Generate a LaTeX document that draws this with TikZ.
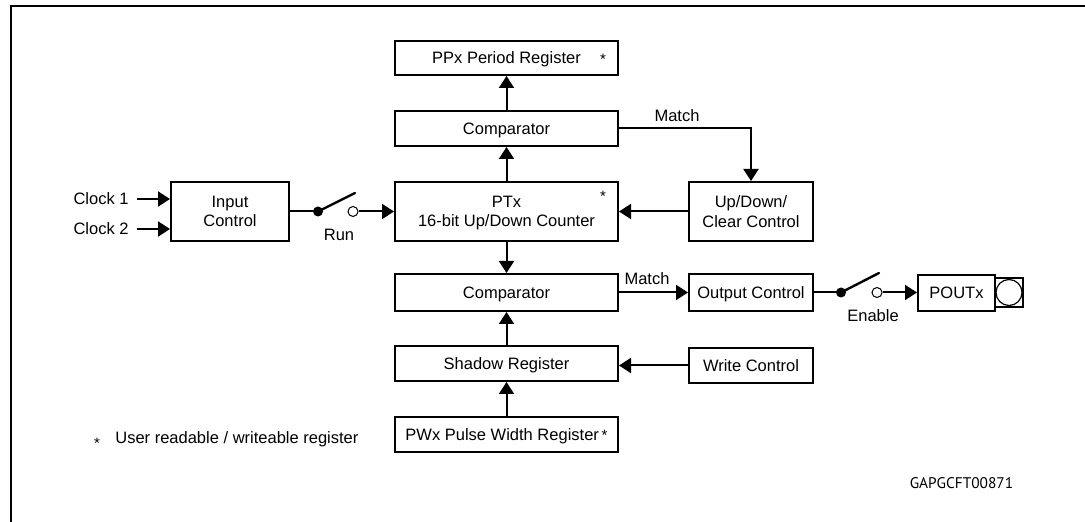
\documentclass[tikz,border=0pt]{standalone}
\usepackage{fontspec}
\setmainfont{Liberation Sans}
\newfontfamily\figidfont{PT Sans}
\usetikzlibrary{arrows.meta}

\tikzset{
  blk/.style={draw,line width=1pt,inner sep=0pt,minimum width=111.5pt,align=center,
    text depth=0pt,font=\fontsize{8.25}{9.8}\selectfont},
  ctl/.style={blk,minimum width=62pt},
  txt/.style={inner sep=0pt,font=\fontsize{8.25}{9.8}\selectfont},
  regstar/.style={inner sep=0pt,font=\fontsize{7.5}{7.5}\selectfont},
  wire/.style={line width=1pt},
  arr/.style={wire,-{Triangle[length=6pt,width=7.5pt]}},
  lever/.style={line width=1.2pt,line cap=round},
  swdot/.style={circle,fill,inner sep=0pt,minimum size=5pt},
  swopen/.style={circle,draw,line width=0.5pt,inner sep=0pt,minimum size=5pt},
}

\begin{document}
\begin{tikzpicture}[x=0.5pt,y=-0.5pt]
\useasboundingbox (0,0) rectangle (1085,522);
% Frame
\draw[line width=1.2pt] (11,522) -- (11,6) -- (1085,6);
            % Blocks
\node[blk,minimum height=17pt] (ppr) at (506.5,58) {PPx Period Register};
\node[regstar] (pprstar) at (603,59) {*};
\node[blk,minimum height=17.5pt] (cmpa) at (506.5,128.5) {Comparator};
\node[blk,minimum height=29.5pt] (ptx) at (506.5,211.5) {PTx\\16-bit Up/Down Counter};
\node[regstar] (ptxstar) at (603,196) {*};
\node[ctl,minimum height=29.5pt] (udc) at (751,211.5) {Up/Down/\\Clear Control};
\node[blk,minimum width=59pt,minimum height=29.5pt] (inc) at (230,211.5) {Input\\Control};
\node[blk,minimum height=18.5pt] (cmpb) at (506.5,292.5) {Comparator};
\node[ctl,minimum height=18.5pt] (outc) at (751,292.5) {Output Control};
\node[blk,minimum width=38.5pt,minimum height=18pt] (pout) at (956.5,293) {POUTx};
\node[draw,line width=0.6pt,inner sep=0pt,minimum width=14pt,minimum height=14.5pt] (pad) at (1009,292.5) {};
\node[circle,draw,line width=0.6pt,inner sep=0pt,minimum size=13pt] (padc) at (pad) {};
\node[blk,minimum height=17.5pt] (shr) at (506.5,363.5) {Shadow Register};
\node[ctl,minimum height=17.5pt] (wrc) at (751,365.5) {Write Control};
\node[blk,minimum height=17.5pt] (pwx) at (506.5,434.5) {PWx Pulse Width Register\,{\fontsize{7.5}{7.5}\selectfont*}};
            % Switches
\node[swdot] (rund) at (318,211.5) {};
\node[swopen] (runo) at (353,211.5) {};
\coordinate (runtip) at (355,193);
\node[swdot] (end) at (841,292.5) {};
\node[swopen] (eno) at (877,292.5) {};
\coordinate (entip) at (879,273);
            % Labels
\node[txt,inner xsep=4pt,anchor=east] (clka) at (137,199) {Clock 1};
\node[txt,inner xsep=4pt,anchor=east] (clkb) at (137,229) {Clock 2};
\node[txt] (runlbl) at (339,235) {Run};
\node[txt] (enlbl) at (873,316) {Enable};
\node[txt] (matcha) at (677,116) {Match};
\node[txt] (matchb) at (647,279) {Match};
\node[regstar] (fnstar) at (97,443) {*};
\node[txt,anchor=west] (fn) at (115,439) {User readable / writeable register};
\node[inner sep=0pt,font=\figidfont\fontsize{7.7}{8}\selectfont] (figid) at (961.5,483) {GAPGCFT00871};
%Connections
\draw[arr] (clka.east) -- (clka.east -| inc.west);
\draw[arr] (clkb.east) -- (clkb.east -| inc.west);
\draw[wire] (inc.east) -- (rund.center);
\draw[lever] (rund.center) -- (runtip);
\draw[arr] (runo) -- (ptx.west);
\draw[arr] (ptx) -- (cmpa);
\draw[arr] (cmpa) -- (ppr);
\draw[arr] (cmpa.east) -| (udc);
\draw[arr] (udc) -- (ptx);
\draw[arr] (ptx) -- (cmpb);
\draw[arr] (cmpb) -- (outc);
\draw[wire] (outc.east) -- (end.center);
\draw[lever] (end.center) -- (entip);
\draw[arr] (eno.east) -- (eno.east -| pout.west);
\draw[arr] (shr) -- (cmpb);
\draw[arr] (wrc.west) -- (wrc.west -| shr.east);
\draw[arr] (pwx) -- (shr);

\end{tikzpicture}
\end{document}
